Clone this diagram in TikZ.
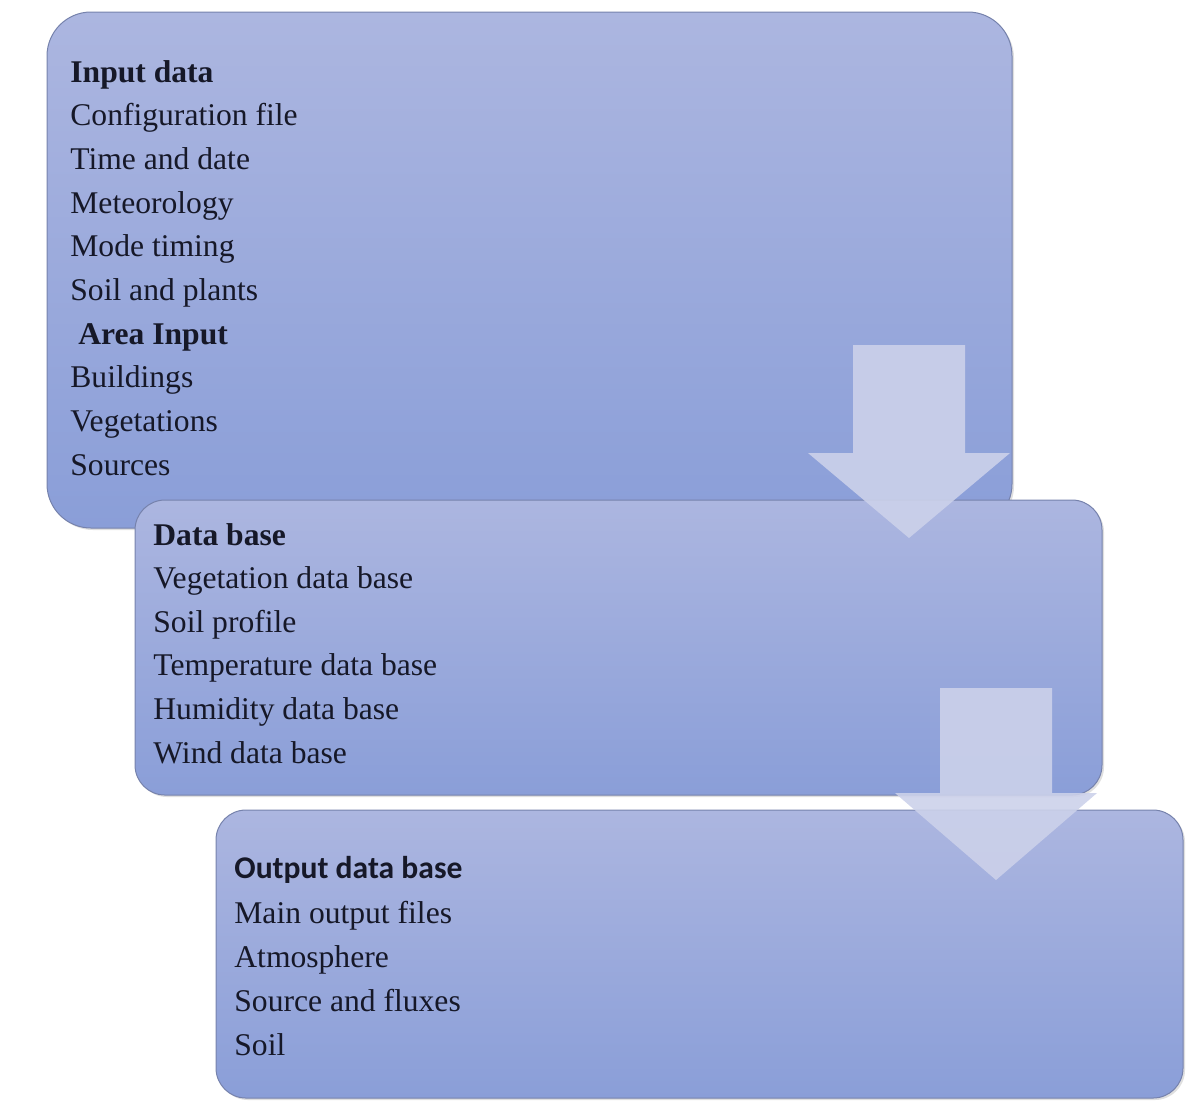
\documentclass[tikz,border=0pt]{standalone}
\usepackage{fontspec}
\setmainfont{Liberation Serif}
\newfontfamily\timesfam{Liberation Serif}
\newfontfamily\carlito{Carlito}
\usetikzlibrary{shadows}
\definecolor{boxtop}{RGB}{172,182,224}
\definecolor{boxbot}{RGB}{138,158,216}
\definecolor{boxline}{RGB}{118,130,172}
\definecolor{arrowfill}{RGB}{204,209,234}
\definecolor{txt}{RGB}{22,24,40}
\begin{document}
\begin{tikzpicture}[x=0.5pt,y=-0.5pt,
  stage/.style={draw=boxline, line width=0.5pt, top color=boxtop, bottom color=boxbot,
    drop shadow={opacity=0.25, shadow xshift=1pt, shadow yshift=-1pt}},
  item/.style={anchor=base west, inner sep=0pt, text=txt, font=\timesfam\fontsize{15.8}{19}\selectfont},
  head/.style={item, font=\timesfam\fontsize{15.8}{19}\selectfont\bfseries},
  blockarrow/.style={fill=arrowfill, fill opacity=0.9, draw=none}]
\useasboundingbox (0,0) rectangle (1186,1100);
% box 1
\draw[stage, rounded corners=22pt] (47,12) rectangle (1012,528);
\node[head] (inhead) at (70,82) {Input data};
\foreach \t [count=\i from 1] in {Configuration file, Time and date, Meteorology, Mode timing, Soil and plants}
  \node[item] (in\i) at (70,{82+43.7*\i}) {\t};
\node[head] (areahead) at (78,{82+43.7*6}) {Area Input};
\foreach \t [count=\i from 7] in {Buildings, Vegetations, Sources}
  \node[item] (in\i) at (70,{82+43.7*\i}) {\t};
% box 2
\draw[stage, rounded corners=15pt] (135,500) rectangle (1102,795);
\node[head] (dbhead) at (153,545) {Data base};
\foreach \t [count=\i from 1] in {Vegetation data base, Soil profile, Temperature data base, Humidity data base, Wind data base}
  \node[item] (db\i) at (153,{545+43.6*\i}) {\t};
% arrow 1
\coordinate (a1) at (909,538);
\fill[blockarrow] (853,345) -- (965,345) -- (965,453) -- (1010,453) -- (a1) -- (808,453) -- (853,453) -- cycle;
% box 3
\draw[stage, rounded corners=15pt] (216,810) rectangle (1183,1098);
\node[item, font=\carlito\fontsize{15.8}{19}\selectfont\bfseries] (outhead) at (234,878) {Output data base};
\foreach \t [count=\i from 1] in {Main output files, Atmosphere, Source and fluxes, Soil}
  \node[item] (out\i) at (234,{880+43.8*\i}) {\t};
% arrow 2
\coordinate (a2) at (996,880);
\fill[blockarrow] (940,688) -- (1052,688) -- (1052,793) -- (1097,793) -- (a2) -- (895,793) -- (940,793) -- cycle;
\end{tikzpicture}
\end{document}
